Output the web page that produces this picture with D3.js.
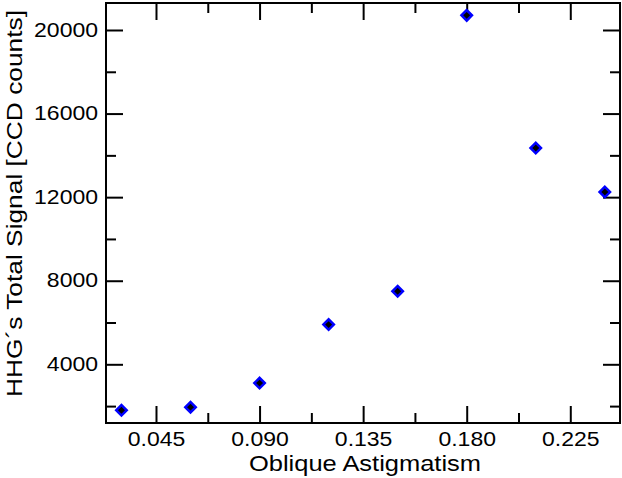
<!DOCTYPE html>
<html>
<head>
<meta charset="utf-8">
<script src="https://cdn.jsdelivr.net/npm/d3@7"></script>
<style>
  body { margin: 0; background: #fff; }
  text { font-family: "Liberation Sans", Arial, Helvetica, sans-serif; fill: #000; }
  .tick text { font-size: 19.5px; }
  .title { font-size: 22px; }
</style>
</head>
<body>
<script>
// data
var astigmatism = [0.03, 0.06, 0.09, 0.12, 0.15, 0.18, 0.21, 0.24];
var signal = [1800, 1950, 3100, 5900, 7500, 20700, 14350, 12250];

var xMajorTicks = [0.045, 0.090, 0.135, 0.180, 0.225];
var xMinorTicks = [0.0675, 0.1125, 0.1575, 0.2025];
var yMajorTicks = [4000, 8000, 12000, 16000, 20000];
var yMinorTicks = [2000, 6000, 10000, 14000, 18000];

var w = 622, h = 478;
var plotLeft = 106, plotRight = 620, plotTop = 3, plotBottom = 423;
var majorLen = 17, minorLen = 10, stretch = 1.18;

var svg = d3.select('body').append('svg')
  .attr('width', w)
  .attr('height', h);

var x = d3.scaleLinear().domain([0.02328, 0.2466]).range([plotLeft, plotRight]);
var y = d3.scaleLinear().domain([1191, 21292]).range([plotBottom, plotTop]);

function styleAxis(g) {
  g.attr('font-size', null).attr('font-family', null);
  g.select('.domain').remove();
  g.selectAll('line').attr('stroke', '#000').attr('stroke-width', 2);
}

// bottom axis: major with labels, minor without
svg.append('g')
  .attr('transform', 'translate(0,' + plotBottom + ')')
  .call(d3.axisBottom(x).tickValues(xMajorTicks).tickSize(-majorLen).tickFormat(d3.format('.3f')))
  .call(styleAxis)
  .selectAll('text')
  .attr('y', 23)
  .attr('dy', null)
  .attr('transform', 'scale(' + stretch + ',1)');
svg.append('g')
  .attr('transform', 'translate(0,' + plotBottom + ')')
  .call(d3.axisBottom(x).tickValues(xMinorTicks).tickSize(-minorLen).tickFormat(''))
  .call(styleAxis);

// top axis (mirror ticks)
svg.append('g')
  .attr('transform', 'translate(0,' + plotTop + ')')
  .call(d3.axisTop(x).tickValues(xMajorTicks).tickSize(-majorLen).tickFormat(''))
  .call(styleAxis);
svg.append('g')
  .attr('transform', 'translate(0,' + plotTop + ')')
  .call(d3.axisTop(x).tickValues(xMinorTicks).tickSize(-minorLen).tickFormat(''))
  .call(styleAxis);

// left axis
svg.append('g')
  .attr('transform', 'translate(' + plotLeft + ',0)')
  .call(d3.axisLeft(y).tickValues(yMajorTicks).tickSize(-majorLen).tickFormat(d3.format('d')))
  .call(styleAxis)
  .selectAll('text')
  .attr('x', -8 / stretch)
  .attr('transform', 'scale(' + stretch + ',1)');
svg.append('g')
  .attr('transform', 'translate(' + plotLeft + ',0)')
  .call(d3.axisLeft(y).tickValues(yMinorTicks).tickSize(-minorLen).tickFormat(''))
  .call(styleAxis);

// right axis (mirror ticks)
svg.append('g')
  .attr('transform', 'translate(' + plotRight + ',0)')
  .call(d3.axisRight(y).tickValues(yMajorTicks).tickSize(-majorLen).tickFormat(''))
  .call(styleAxis);
svg.append('g')
  .attr('transform', 'translate(' + plotRight + ',0)')
  .call(d3.axisRight(y).tickValues(yMinorTicks).tickSize(-minorLen).tickFormat(''))
  .call(styleAxis);

// frame
svg.append('rect')
  .attr('x', plotLeft)
  .attr('y', plotTop)
  .attr('width', plotRight - plotLeft)
  .attr('height', plotBottom - plotTop)
  .attr('fill', 'none')
  .attr('stroke', '#000')
  .attr('stroke-width', 2);

// axis titles
svg.append('text')
  .attr('class', 'title')
  .attr('x', 365)
  .attr('y', 471)
  .attr('text-anchor', 'middle')
  .attr('textLength', 232)
  .attr('lengthAdjust', 'spacingAndGlyphs')
  .text('Oblique Astigmatism');

svg.append('text')
  .attr('class', 'title')
  .attr('transform', 'translate(22,203.5) rotate(-90)')
  .attr('text-anchor', 'middle')
  .attr('textLength', 387)
  .attr('lengthAdjust', 'spacingAndGlyphs')
  .text('HHG\u00B4s Total Signal [CCD counts]');

// diamond markers
var diamond = d3.symbol().type(d3.symbolSquare).size(55);
svg.selectAll('path.pt')
  .data(astigmatism)
  .enter()
  .append('path')
  .attr('class', 'pt')
  .attr('d', diamond)
  .attr('transform', function (d, i) {
    return 'translate(' + x(d) + ',' + y(signal[i]) + ') rotate(45)';
  })
  .attr('fill', '#000')
  .attr('stroke', '#0000ff')
  .attr('stroke-width', 2.5);
</script>
</body>
</html>
